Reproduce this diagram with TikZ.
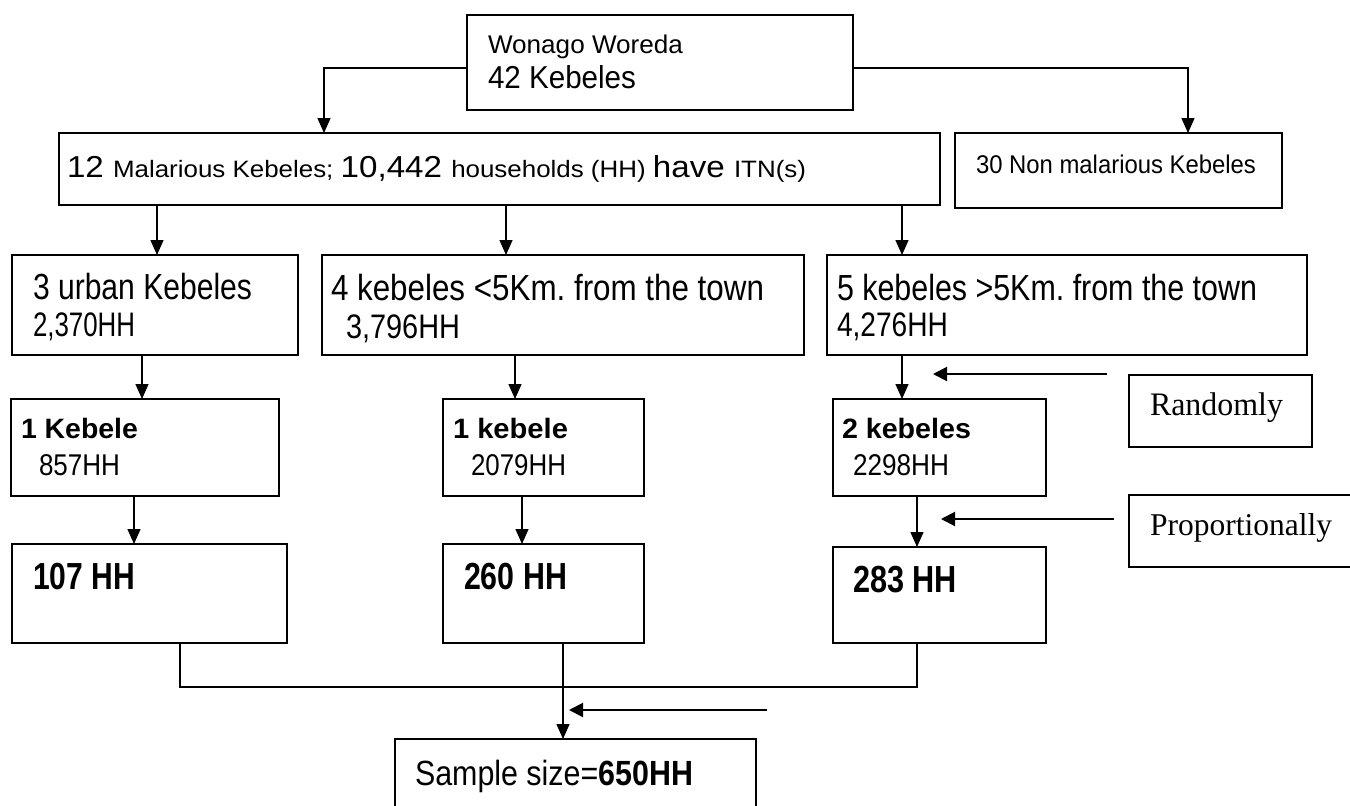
\documentclass[tikz,border=0pt]{standalone}
\usepackage{fontspec}
\setmainfont{Liberation Sans}
\newfontfamily\serifx{Liberation Serif}
\usepackage{graphicx}
\usetikzlibrary{arrows.meta}
\frenchspacing
\newsavebox\fitbox
\newcommand\fitw[2]{\sbox\fitbox{#2}\pgfmathsetmacro\fitr{#1/\the\wd\fitbox}\scalebox{\fitr}[1]{\usebox\fitbox}}
\newcommand\fsz[1]{\fontsize{#1pt}{#1pt}\selectfont}
\newcommand\mybox[5]{\node[box, anchor=north west, minimum width={#4-#2}, minimum height={#5-#3}] (#1) at (#2,#3) {};}
\begin{document}
\begin{tikzpicture}[x=1pt,y=-1pt,
  box/.style={draw, line width=1.8pt, inner sep=0pt, outer sep=0pt},
  txt/.style={anchor=base west, inner sep=0pt, outer sep=0pt},
  conn/.style={line width=1.4pt},
  arr/.style={conn, -{Triangle[length=15pt,width=13pt]}},
  side/.style={line width=2pt, -{Triangle[length=14pt,width=14pt]}}]
\useasboundingbox (0,0) rectangle (1350,806);
\fill[white] (0,0) rectangle (1350,806);
\clip (0,0) rectangle (1350,806);
% boxes
\mybox{top}{467}{15}{853}{110}
\mybox{mal}{59}{133}{940}{205}
\mybox{non}{955}{133}{1282}{208}
\mybox{urb}{12}{255}{298}{355}
\mybox{near}{322}{255}{804}{355}
\mybox{far}{827}{255}{1307}{355}
\mybox{ka}{11}{399}{279}{496}
\mybox{kb}{443}{399}{644}{496}
\mybox{kc}{833}{399}{1046}{496}
\mybox{rand}{1129}{375}{1312}{447}
\mybox{sa}{12}{544}{287}{643}
\mybox{sb}{443}{544}{644}{643}
\mybox{sc}{833}{547}{1046}{643}
\mybox{prop}{1129}{495}{1380}{567}
\mybox{sample}{395}{739}{756}{840}
% texts
\node[txt] (t1) at (488,53) {\fsz{25.6}\fitw{195}{Wonago Woreda}};
\node[txt] (t2) at (488,88) {\fsz{31.7}\fitw{148}{42 Kebeles}};
\node[txt] (t3) at (67,177) {\fitw{739}{\fsz{30.3}12 \fsz{23.7}Malarious Kebeles; \fsz{30.3}10,442 \fsz{23.7}households (HH) \fsz{30.3}have \fsz{23.7}ITN(s)}};
\node[txt] (t4) at (976,173) {\fsz{25.6}\fitw{280}{30 Non malarious Kebeles}};
\node[txt] (t5) at (33,299) {\fsz{36.3}\fitw{219}{3 urban Kebeles}};
\node[txt] (t6) at (33,336) {\fsz{34}\fitw{102}{2,370HH}};
\node[txt] (t7) at (331,300) {\fsz{36.3}\fitw{433}{4 kebeles <5Km. from the town}};
\node[txt] (t8) at (346,338) {\fsz{34}\fitw{114}{3,796HH}};
\node[txt] (t9) at (837,300) {\fsz{36.3}\fitw{420}{5 kebeles >5Km. from the town}};
\node[txt] (t10) at (837,336) {\fsz{34}\fitw{111}{4,276HH}};
\node[txt] (t11) at (21,438) {\fsz{28}\fitw{117}{\textbf{1 Kebele}}};
\node[txt] (t12) at (39,475) {\fsz{30}\fitw{81}{857HH}};
\node[txt] (t13) at (453,438) {\fsz{28}\fitw{115}{\textbf{1 kebele}}};
\node[txt] (t14) at (471,475) {\fsz{30}\fitw{95}{2079HH}};
\node[txt] (t15) at (842,438) {\fsz{28}\fitw{129}{\textbf{2 kebeles}}};
\node[txt] (t16) at (853,475) {\fsz{30}\fitw{96}{2298HH}};
\node[txt] (t17) at (33,589) {\fsz{37.7}\fitw{102}{\textbf{107 HH}}};
\node[txt] (t18) at (464,589) {\fsz{37.7}\fitw{103}{\textbf{260 HH}}};
\node[txt] (t19) at (853,592) {\fsz{37.7}\fitw{104}{\textbf{283 HH}}};
\node[txt] (t20) at (415,785) {\fsz{35}\fitw{278}{Sample size=\textbf{650HH}}};
\node[txt] (t21) at (1150,415) {\serifx\fsz{32.8}\fitw{133}{Randomly}};
\node[txt] (t22) at (1150,535) {\serifx\fsz{31.7}\fitw{182}{Proportionally}};
% connectors
\draw[arr] ([yshift=-5.5pt]top.west) -| ([xshift=265pt]mal.north west);
\draw[arr] ([yshift=-5.5pt]top.east) -| ([xshift=233pt]non.north west);
\coordinate (a1) at ([xshift=145pt]urb.north west);
\coordinate (a2) at ([xshift=184pt]near.north west);
\coordinate (a3) at ([xshift=75pt]far.north west);
\draw[arr] (a1 |- mal.south) -- (a1);
\draw[arr] (a2 |- mal.south) -- (a2);
\draw[arr] (a3 |- mal.south) -- (a3);
\coordinate (b1) at ([xshift=131pt]ka.north west);
\coordinate (b2) at ([xshift=72pt]kb.north west);
\coordinate (b3) at ([xshift=69pt]kc.north west);
\draw[arr] (b1 |- urb.south) -- (b1);
\draw[arr] (b2 |- near.south) -- (b2);
\draw[arr] (b3 |- far.south) -- (b3);
\coordinate (c1) at ([xshift=122pt]sa.north west);
\coordinate (c2) at ([xshift=79pt]sb.north west);
\coordinate (c3) at ([xshift=84pt]sc.north west);
\draw[arr] (c1 |- ka.south) -- (c1);
\draw[arr] (c2 |- kb.south) -- (c2);
\draw[arr] (c3 |- kc.south) -- (c3);
\coordinate (m1) at ([xshift=168pt]sa.south west);
\coordinate (m3) at ([xshift=84pt]sc.south west);
\coordinate (mj) at ([yshift=-44pt]m1);
\draw[conn] (m1) -- (mj) -| (m3);
\coordinate (m2) at ([xshift=120pt]sb.south west);
\draw[arr] (m2) -- (m2 |- sample.north);
% side arrows
\coordinate (r0) at ([xshift=-22pt,yshift=1pt]rand.north west);
\coordinate (r1) at (933,374);
\draw[side] (r0) -- (r1);
\coordinate (p0) at (1114,519);
\coordinate (p1) at (941,519);
\draw[side] (p0) -- (p1);
\coordinate (q0) at (767,710);
\coordinate (q1) at (569,710);
\draw[side] (q0) -- (q1);
\end{tikzpicture}
\end{document}
